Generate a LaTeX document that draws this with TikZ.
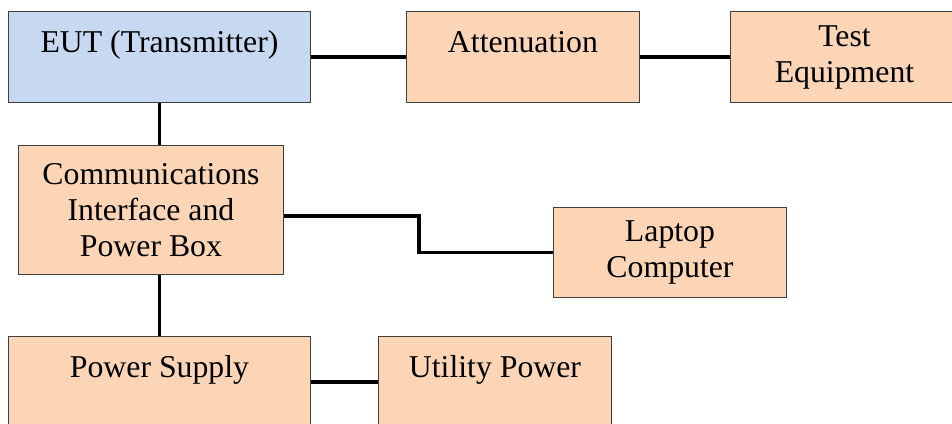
\documentclass[tikz,border=0pt]{standalone}
\usepackage{fontspec}
\setmainfont{Liberation Serif}
\newfontfamily\unitfont{Liberation Serif}
\definecolor{eutblue}{RGB}{198, 217, 241}
\definecolor{unitorange}{RGB}{251, 213, 181}
\usetikzlibrary{positioning, calc}

\begin{document}
\begin{tikzpicture}[
  unit/.style={draw=black!75, line width=0.7pt, fill=unitorange, anchor=north west, inner sep=0pt, font=\unitfont\fontsize{22.6}{25.6}\selectfont},
  oneline/.style={text height=1.025cm, text depth=1.25cm},
  cable/.style={line width=2.8pt}
]
  \useasboundingbox (0,0) rectangle (23.8,-10.6);

  % top row: transmitter, attenuator, test gear
  \node[unit, oneline, fill=eutblue, minimum width=7.55cm] (eut) at (0.2,-0.275) {EUT (Transmitter)};
  \node[unit, oneline, minimum width=5.825cm] (att) at (10.15,-0.275) {Attenuation};
  \node[unit, align=center, minimum width=5.7cm, minimum height=2.275cm] (test) at (18.25,-0.275) {Test\\Equipment};

  % middle row
  \node[unit, align=center, minimum width=6.625cm, minimum height=3.225cm] (comm) at (0.45,-3.625) {Communications\\Interface and\\Power Box};
  \node[unit, align=center, minimum width=5.825cm, minimum height=2.25cm] (laptop) at (13.825,-5.175) {Laptop\\Computer};

  % bottom row (runs off the page)
  \node[unit, oneline, minimum width=7.55cm] (psu) at (0.2,-8.4) {Power Supply};
  \node[unit, oneline, minimum width=5.825cm] (mains) at (9.45,-8.4) {Utility Power};

  % cables
  \draw[cable] (eut.east) -- (att.west);
  \draw[cable] (att.east) -- (test.west);
  \draw[cable] (eut.south) -- (eut.south |- comm.north);
  \draw[cable] ([yshift=-0.14cm]comm.east) -- ++(3.375,0) |- (laptop.west);
  \draw[cable] (comm.south -| psu.north) -- (psu.north);
  \draw[cable] (psu.east) -- (mains.west);
\end{tikzpicture}
\end{document}
